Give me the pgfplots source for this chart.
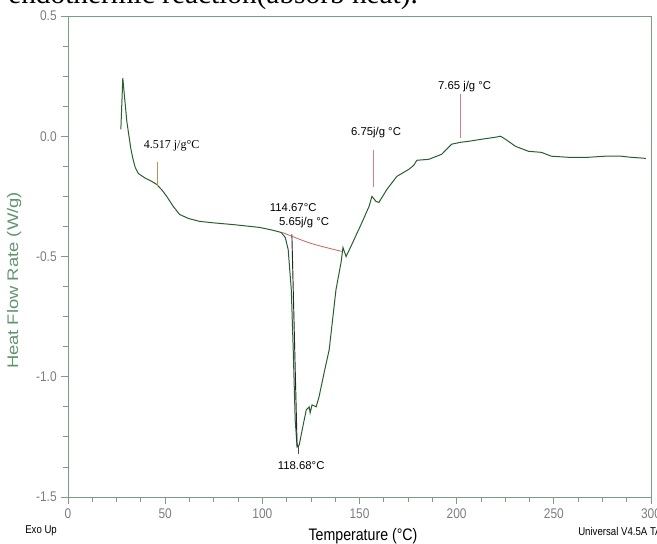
\documentclass[border=0pt]{standalone}
\usepackage{fontspec}
\setmainfont{Liberation Sans}
\newfontfamily\serifx{Liberation Serif}
\newfontfamily\narrow[FakeStretch=0.85]{Liberation Sans}
\newfontfamily\widef[FakeStretch=1.2]{Liberation Sans}
\usepackage{pgfplots}
\pgfplotsset{compat=1.18}
\usetikzlibrary{calc}
\definecolor{axcol}{RGB}{120,160,128}
\definecolor{curvec}{RGB}{40,95,48}
\definecolor{lblgray}{RGB}{125,125,125}
\definecolor{ylab}{RGB}{95,150,110}
\definecolor{orangeline}{RGB}{205,140,80}
\definecolor{pinkline}{RGB}{210,125,140}
\definecolor{redbase}{RGB}{205,95,95}
\begin{document}
\begin{tikzpicture}
\begin{axis}[name=ax, scale only axis, width=437.25pt, height=360.75pt,
  xmin=0, xmax=300, ymin=-1.5, ymax=0.5,
  xtick={0,50,100,150,200,250,300},
  xticklabels={0,50,100,150,200,250,300},
  ytick={-1.5,-1,-0.5,0,0.5},
  yticklabels={-1.5,-1.0,-0.5,0.0,0.5},
  minor x tick num=3, minor y tick num=3,
  tick align=outside, xtick pos=bottom, ytick pos=left,
  axis line style={axcol, line width=0.7pt},
  every tick/.style={axcol, line width=0.6pt},
  major tick length=5pt, minor tick length=4pt,
  tick label style={font=\narrow\fontsize{10.5}{10.5}\selectfont, text=lblgray},
  /pgf/number format/assume math mode=true,
  clip=false,
]
\addplot[curvec, line width=0.75pt] coordinates {
(27.2,0.029) (28.2,0.242) (29.2,0.154) (30.3,0.06) (31.3,0.005) (32.3,-0.05) (33.3,-0.09)
(34.6,-0.13) (36.2,-0.155) (39.5,-0.173) (42.5,-0.185) (45.6,-0.2) (48.5,-0.225) (50.8,-0.25)
(54.0,-0.29) (57.4,-0.325) (62,-0.342) (67.7,-0.354) (76,-0.361) (84.6,-0.367)
(98.5,-0.379) (105,-0.39) (109.7,-0.4) (111.8,-0.421) (113.3,-0.471) (114.9,-0.638)
(115.9,-0.888) (116.9,-1.179) (117.9,-1.292) (119.0,-1.283) (120.5,-1.221)
(122.6,-1.138) (124.1,-1.125) (124.6,-1.15) (125.6,-1.117) (127.7,-1.125)
(129.2,-1.083) (131.8,-0.983) (134.4,-0.888) (137.9,-0.638) (140.5,-0.525)
(141.5,-0.4625) (143.1,-0.5) (145.6,-0.458) (151.3,-0.358) (154.9,-0.292)
(156.4,-0.25) (158.5,-0.271) (160,-0.275) (164.1,-0.221) (169.2,-0.167)
(175.4,-0.1375) (177.9,-0.121) (179.5,-0.1) (185.6,-0.096) (192.3,-0.075)
(197.4,-0.033) (202.1,-0.025) (206.2,-0.021) (212.8,-0.0125) (220,-0.004)
(222.6,0) (225.1,-0.0125) (230.3,-0.042) (236.9,-0.0625) (243.6,-0.067)
(248.7,-0.083) (257.4,-0.0875) (267.7,-0.0875) (276.4,-0.083) (284.6,-0.083)
(289.7,-0.0875) (297.4,-0.092)
};
% onset line
\addplot[black!85, line width=0.7pt] coordinates {(115.2,-0.408) (117.9,-1.29)};
% baseline
\addplot[redbase, line width=0.6pt, smooth] coordinates {(110.3,-0.4) (124.8,-0.445) (141.0,-0.479)};
% annotation leaders
\addplot[orangeline, line width=0.6pt] coordinates {(46.2,-0.108) (46.2,-0.208)};
\addplot[pinkline, line width=0.6pt] coordinates {(156.9,-0.058) (156.9,-0.2125)};
\addplot[pinkline, line width=0.6pt] coordinates {(202.1,0.175) (202.1,-0.008)};
\addplot[black!70, line width=0.5pt] coordinates {(118.5,-1.29) (118.5,-1.32)};
% annotation texts
\node[font=\serifx\fontsize{9}{9}\selectfont] at (axis cs:53.3,-0.04) {4.517 j/g°C};
\node[font=\fontsize{8.5}{8.5}\selectfont] at (axis cs:115.9,-0.296) {114.67°C};
\node[font=\fontsize{8.5}{8.5}\selectfont] at (axis cs:121.5,-0.358) {5.65j/g °C};
\node[font=\fontsize{8.5}{8.5}\selectfont] at (axis cs:158.5,0.015) {6.75j/g °C};
\node[font=\fontsize{8.5}{8.5}\selectfont] at (axis cs:204.1,0.205) {7.65 j/g °C};
\node[font=\fontsize{8.5}{8.5}\selectfont] at (axis cs:120,-1.371) {118.68°C};
% y label
\node[rotate=90, text=ylab, font=\widef\fontsize{11.5}{11.5}\selectfont] at (axis cs:-27.7,-0.6) {Heat Flow Rate (W/g)};
\end{axis}
\node[anchor=base west, inner sep=0pt, font=\serifx\fontsize{22}{22}\selectfont] at ($(ax.north west)+(-45pt,9pt)$) {endothermic reaction(absorb heat).};
\node[anchor=west, inner sep=0pt, font=\narrow\fontsize{8.5}{8.5}\selectfont] at ($(ax.south west)+(-32.25pt,-25.5pt)$) {Exo Up};
\node[anchor=center, inner sep=0pt, font=\narrow\fontsize{12.5}{12.5}\selectfont] at ($(ax.south west)+(221.25pt,-29.5pt)$) {Temperature (°C)};
\node[anchor=west, inner sep=0pt, font=\narrow\fontsize{8.5}{8.5}\selectfont] at ($(ax.south west)+(382.5pt,-25.5pt)$) {Universal V4.5A TA Instruments};
\pgfresetboundingbox
\useasboundingbox ($(ax.south west)+(-51pt,-35.25pt)$) rectangle ($(ax.north east)+(4.5pt,12pt)$);
\end{tikzpicture}
\end{document}
